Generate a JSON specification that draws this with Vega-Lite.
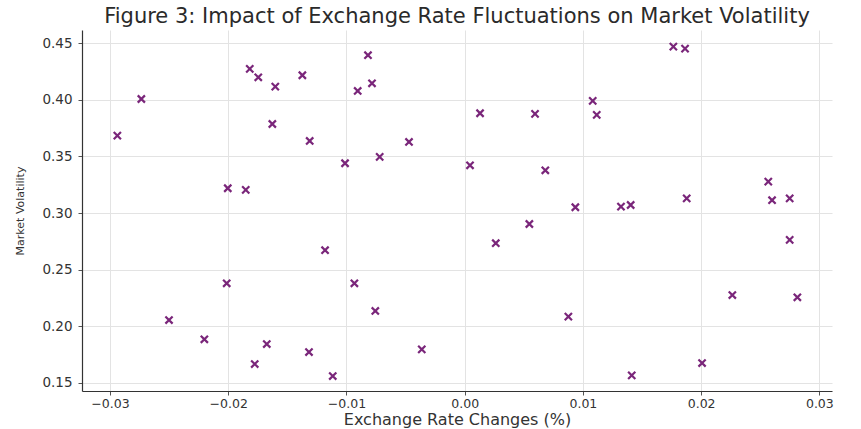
{
  "$schema": "https://vega.github.io/schema/vega-lite/v6.json",
  "width": 750,
  "height": 361,
  "autosize": {"type": "none"},
  "padding": {"left": 82, "top": 30, "right": 29, "bottom": 38},
  "config": {
    "view": {"stroke": null},
    "font": "DejaVu Sans"
  },
  "title": {
    "text": "Figure 3: Impact of Exchange Rate Fluctuations on Market Volatility",
    "font": "DejaVu Sans",
    "fontSize": 21,
    "fontWeight": "normal",
    "color": "#2a2a2a",
    "offset": 3,
    "anchor": "middle"
  },
  "data": {
    "values": [
      {"x": -0.02501, "y": 0.2054},
      {"x": -0.02202, "y": 0.1884},
      {"x": -0.02013, "y": 0.2379},
      {"x": -0.01776, "y": 0.1665},
      {"x": -0.01674, "y": 0.1842},
      {"x": -0.01317, "y": 0.1771},
      {"x": -0.01181, "y": 0.2671},
      {"x": -0.01116, "y": 0.1559},
      {"x": -0.00933, "y": 0.2379},
      {"x": -0.00756, "y": 0.2134},
      {"x": -0.00363, "y": 0.1795},
      {"x": -0.02938, "y": 0.3684},
      {"x": -0.02735, "y": 0.4008},
      {"x": -0.02004, "y": 0.3219},
      {"x": -0.01852, "y": 0.3204},
      {"x": -0.01818, "y": 0.4274},
      {"x": -0.01746, "y": 0.4200},
      {"x": -0.01602, "y": 0.4117},
      {"x": -0.01627, "y": 0.3787},
      {"x": -0.01373, "y": 0.4218},
      {"x": -0.01311, "y": 0.3637},
      {"x": -0.01012, "y": 0.3440},
      {"x": -0.00905, "y": 0.4079},
      {"x": -0.00818, "y": 0.4395},
      {"x": -0.00784, "y": 0.4147},
      {"x": -0.00719, "y": 0.3496},
      {"x": -0.00471, "y": 0.3628},
      {"x": 0.00130, "y": 0.3882},
      {"x": 0.00595, "y": 0.3876},
      {"x": 0.00045, "y": 0.3422},
      {"x": 0.00682, "y": 0.3378},
      {"x": 0.01083, "y": 0.3991},
      {"x": 0.01117, "y": 0.3867},
      {"x": 0.01765, "y": 0.4471},
      {"x": 0.01864, "y": 0.4453},
      {"x": 0.00936, "y": 0.3051},
      {"x": 0.01322, "y": 0.3056},
      {"x": 0.01404, "y": 0.3071},
      {"x": 0.01878, "y": 0.3130},
      {"x": 0.02568, "y": 0.3277},
      {"x": 0.02600, "y": 0.3113},
      {"x": 0.02749, "y": 0.3130},
      {"x": 0.00547, "y": 0.2903},
      {"x": 0.00263, "y": 0.2733},
      {"x": 0.02749, "y": 0.2762},
      {"x": 0.00877, "y": 0.2084},
      {"x": 0.02264, "y": 0.2275},
      {"x": 0.02814, "y": 0.2255},
      {"x": 0.01413, "y": 0.1565},
      {"x": 0.02008, "y": 0.1674}
    ]
  },
  "mark": {
    "type": "point",
    "shape": "M-1,-1L1,1M-1,1L1,-1",
    "filled": false,
    "size": 52,
    "stroke": "#7a267a",
    "strokeWidth": 2.2,
    "opacity": 1
  },
  "encoding": {
    "x": {
      "field": "x",
      "type": "quantitative",
      "scale": {"domain": [-0.03237, 0.03107], "nice": false, "zero": false},
      "axis": {
        "title": "Exchange Rate Changes (%)",
        "values": [-0.03, -0.02, -0.01, 0, 0.01, 0.02, 0.03],
        "format": ".2f",
        "labelFont": "DejaVu Sans",
        "labelFontSize": 12.5,
        "labelColor": "#333333",
        "labelPadding": 2,
        "titleFont": "DejaVu Sans",
        "titleFontSize": 16,
        "titleFontWeight": "normal",
        "titleColor": "#333333",
        "titlePadding": 2,
        "tickSize": 4,
        "tickColor": "#555555",
        "domainColor": "#333333",
        "domainWidth": 1.2,
        "grid": true,
        "gridColor": "#e3e3e3",
        "gridWidth": 1
      }
    },
    "y": {
      "field": "y",
      "type": "quantitative",
      "scale": {"domain": [0.14266, 0.4618], "nice": false, "zero": false},
      "axis": {
        "title": "Market Volatility",
        "values": [0.15, 0.2, 0.25, 0.3, 0.35, 0.4, 0.45],
        "format": ".2f",
        "labelFont": "DejaVu Sans",
        "labelFontSize": 13.5,
        "labelColor": "#333333",
        "labelPadding": 6,
        "titleFont": "DejaVu Sans",
        "titleFontSize": 11,
        "titleFontWeight": "normal",
        "titleColor": "#333333",
        "titlePadding": 16,
        "tickSize": 4,
        "tickColor": "#555555",
        "domainColor": "#333333",
        "domainWidth": 1.2,
        "grid": true,
        "gridColor": "#e3e3e3",
        "gridWidth": 1
      }
    }
  }
}
